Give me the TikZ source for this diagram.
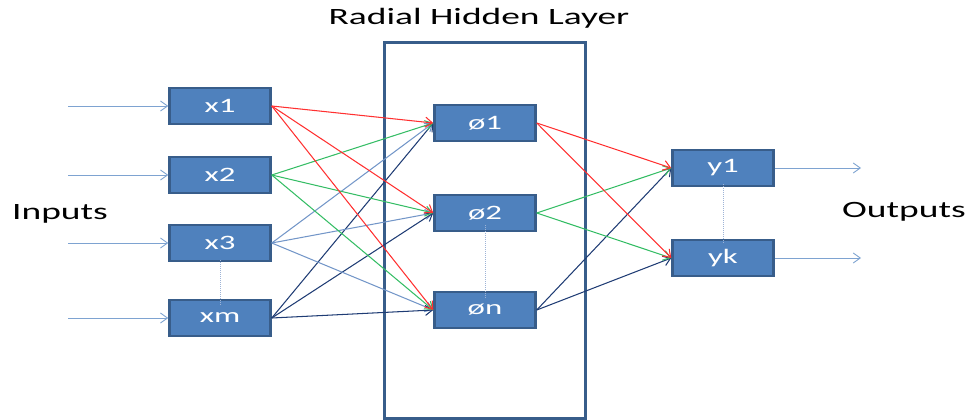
\documentclass[tikz,border=0pt]{standalone}
\usepackage{fontspec}
\setmainfont{Carlito}
\usetikzlibrary{arrows.meta}
\newcommand\stretchtext[1]{\scalebox{1.6}[1]{#1}}
\definecolor{boxfill}{HTML}{4F81BD}
\definecolor{boxedge}{HTML}{385D8A}
\definecolor{wred}{HTML}{FF3030}
\definecolor{wgreen}{HTML}{35BD65}
\definecolor{wlight}{HTML}{7396C8}
\definecolor{wnavy}{HTML}{1F3C74}
\definecolor{feed}{HTML}{7EA3D1}
\definecolor{gap}{HTML}{9DB3D6}
\begin{document}
\begin{tikzpicture}[x=1pt,y=-1pt,
  unit/.style={draw=boxedge, fill=boxfill, line width=2.5pt, minimum width=101pt,
    minimum height=36pt, inner sep=0pt, text=white,
    font=\fontsize{20.5}{24}\selectfont},
  label/.style={inner sep=0pt, font=\fontsize{23.4}{28}\selectfont},
  link/.style={line width=1.05pt, -{Straight Barb[length=7pt,width=10pt]}},
  feedline/.style={link, line width=0.9pt, draw=feed},
  ellip/.style={draw=gap, line width=0.8pt, dash pattern=on 1pt off 1pt}]
\useasboundingbox (0,0) rectangle (966,420);

% hidden layer frame and title
\draw[boxedge, line width=3pt] (384,43) rectangle (585,418);
\node[label, anchor=base] (title) at (479,25) {\stretchtext{Radial Hidden Layer}};

% input units
\node[unit] (x1) at (220,106) {\stretchtext{x1}};
\node[unit] (x2) at (220,175) {\stretchtext{x2}};
\node[unit] (x3) at (220,243) {\stretchtext{x3}};
\node[unit] (xm) at (220,318) {\stretchtext{xm}};

% radial units
\node[unit] (h1) at (485,123) {\stretchtext{ø1}};
\node[unit] (h2) at (485,213) {\stretchtext{ø2}};
\node[unit] (hn) at (485,310) {\stretchtext{øn}};

% output units
\node[unit] (y1) at (723,168) {\stretchtext{y1}};
\node[unit] (yk) at (723,258) {\stretchtext{yk}};

% side labels
\node[label, anchor=base west] (inlbl) at (12,219) {\stretchtext{Inputs}};
\node[label, anchor=base west] (outlbl) at (842,217) {\stretchtext{Outputs}};

% incoming and outgoing signals
\coordinate (i1) at (68,106);
\coordinate (i2) at (68,175);
\coordinate (i3) at (68,243);
\coordinate (im) at (68,318);
\coordinate (o1) at (861,168);
\coordinate (ok) at (861,258);
\foreach \s/\t in {i1/x1, i2/x2, i3/x3, im/xm}
  \draw[feedline] (\s) -- (\t.west);
\draw[feedline] (y1.east) -- (o1);
\draw[feedline] (yk.east) -- (ok);

% input to hidden weights
\foreach \t in {h1,h2,hn} {
  \draw[link, wlight] (x3.east) -- (\t.west);
  \draw[link, wnavy] (xm.east) -- (\t.west);
  \draw[link, wgreen] (x2.east) -- (\t.west);
  \draw[link, wred] (x1.east) -- (\t.west);
}

% hidden to output weights
\foreach \t in {y1,yk} {
  \draw[link, wnavy] (hn.east) -- (\t.west);
  \draw[link, wgreen] (h2.east) -- (\t.west);
  \draw[link, wred] (h1.east) -- (\t.west);
}

% ellipsis marks between units
\draw[ellip] ([yshift=2pt]x3.south) -- ([yshift=-7pt]xm.north);
\draw[ellip] ([yshift=7pt]h2.south) -- ([yshift=-8pt]hn.north);
\draw[ellip] ([yshift=3pt]y1.south) -- ([yshift=-4pt]yk.north);
\end{tikzpicture}
\end{document}
